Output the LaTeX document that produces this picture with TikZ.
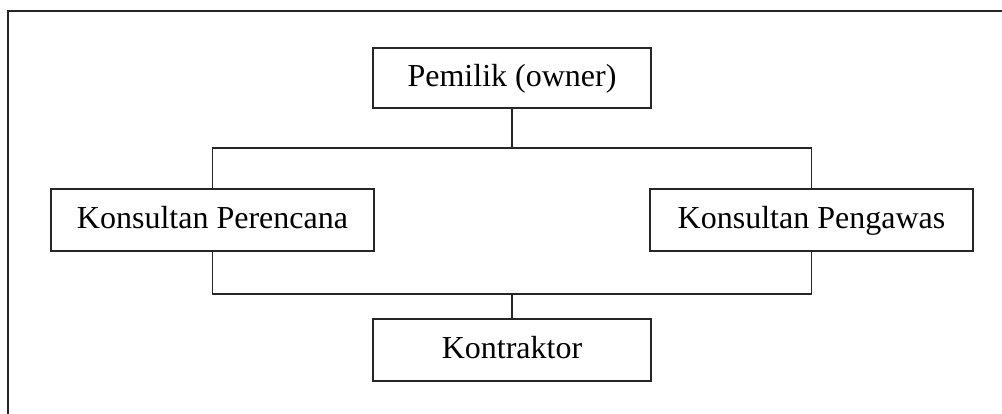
\documentclass[tikz,border=0pt]{standalone}
\usepackage{fontspec}
\setmainfont{Liberation Serif}
\begin{document}
\begin{tikzpicture}
		[x=1pt, y=-1pt, line width=1.6pt, draw=black!85,
		every node/.style={draw, rectangle, inner sep=1pt, line width=1.6pt, text height=23pt, text depth=5pt, font=\fontsize{32}{38}\selectfont}]
		\useasboundingbox (0,0) rectangle (1002,414);
		\draw (8,414) -- (8,11) -- (1002,11);
		
		\node[minimum width=278pt, minimum height=60pt] (owner) at (512,78) {Pemilik (owner)};
		\node[minimum width=323pt, minimum height=62pt] (perencana) at (212.5,220) {Konsultan Perencana};
		\node[minimum width=323pt, minimum height=62pt] (pengawas) at (811.5,220) {Konsultan Pengawas};
		\node[minimum width=278pt, minimum height=62pt] (kontraktor) at (512,350) {Kontraktor};
		\coordinate (upper) at (512,148);
		\coordinate (lower) at (512,294);
		
		\draw (owner) -- (upper);
		\draw (perencana.north) |- (upper) -| (pengawas.north);
		\draw (perencana.south) |- (lower) -| (pengawas.south);
		\draw (lower) -- (kontraktor);
		\end{tikzpicture}
\end{document}
